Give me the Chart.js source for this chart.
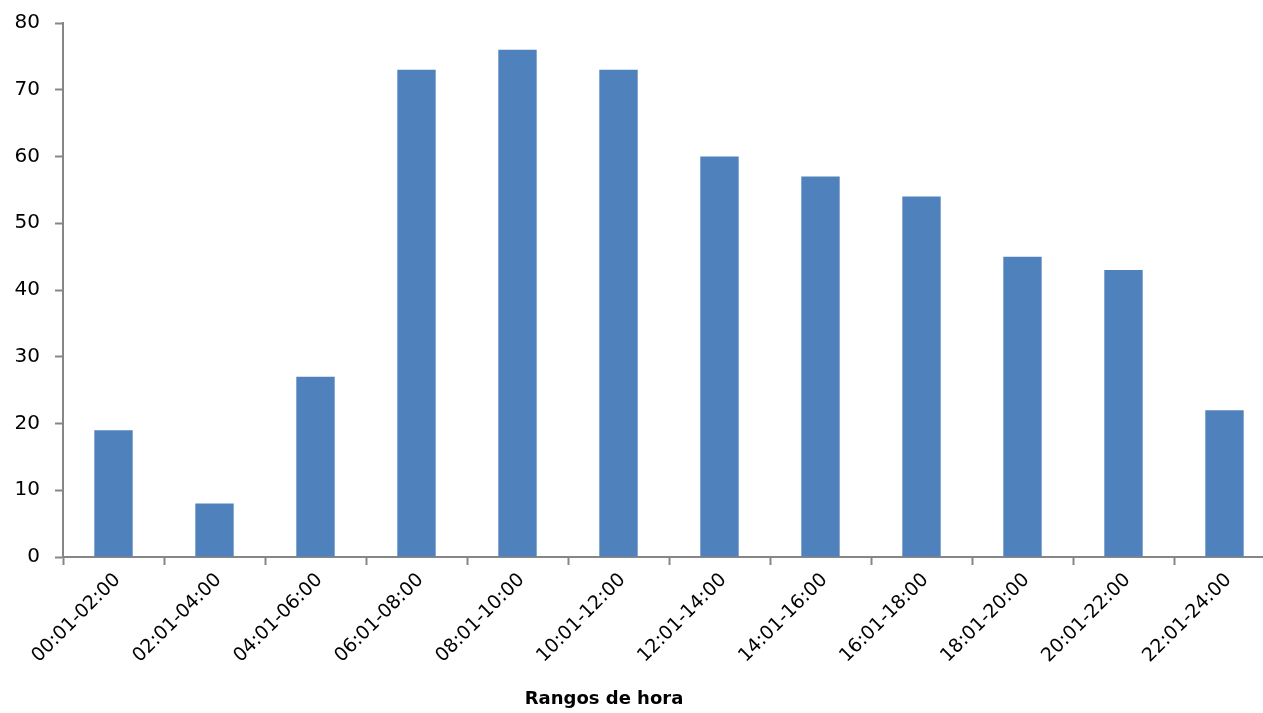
<!DOCTYPE html>
<html>
<head>
<meta charset="utf-8">
<script src="https://cdn.jsdelivr.net/npm/chart.js@4"></script>
<style>
    html, body { margin: 0; padding: 0; background: #fff; overflow: hidden; }
    #wrap { position: relative; width: 1275px; height: 713px; }
    #xTitle {
        position: absolute; left: 604px; top: 687px; transform: translateX(-50%);
        font: bold 18px "DejaVu Sans", sans-serif; color: #000; white-space: nowrap;
    }
</style>
</head>
<body>
<div id="wrap">
    <canvas id="hoursChart"></canvas>
    <div id="xTitle">Rangos de hora</div>
</div>
<script>
const categories = ["00:01-02:00", "02:01-04:00", "04:01-06:00", "06:01-08:00", "08:01-10:00", "10:01-12:00",
    "12:01-14:00", "14:01-16:00", "16:01-18:00", "18:01-20:00", "20:01-22:00", "22:01-24:00"];
const counts = [19, 8, 27, 73, 76, 73, 60, 57, 54, 45, 43, 22];
const yTicks = [0, 10, 20, 30, 40, 50, 60, 70, 80];

const axisGray = "#868686";

new Chart(document.getElementById("hoursChart"), {
    type: "bar",
    data: {
        labels: categories,
        datasets: [
            {
                data: counts,
                backgroundColor: "#4f81bd",
                borderWidth: 0,
                barPercentage: 0.38,
                categoryPercentage: 1.0,
            },
        ],
    },
    options: {
        responsive: true,
        maintainAspectRatio: false,
        animation: false,
        layout: { padding: { top: 23, right: 0, bottom: 0, left: 0 } },
        scales: {
            x: {
                afterFit: (scale) => { scale.height = 156; },
                grid: {
                    offset: true,
                    drawOnChartArea: false,
                    tickLength: 8,
                    tickWidth: 2,
                    tickColor: axisGray,
                },
                border: { color: axisGray, width: 2 },
                ticks: {
                    autoSkip: false,
                    minRotation: 45,
                    maxRotation: 45,
                    padding: 4,
                    labelOffset: 4,
                    color: "#000",
                    font: { family: "DejaVu Sans", size: 19 },
                },
            },
            y: {
                min: 0,
                max: 80,
                afterFit: (scale) => {
                    scale.width = 63;
                    // tick padding would otherwise push the plot top down
                    scale.paddingTop = 0;
                    scale.paddingBottom = 0;
                },
                afterBuildTicks: (scale) => { scale.ticks = yTicks.map((v) => ({ value: v })); },
                grid: {
                    drawOnChartArea: false,
                    tickLength: 8,
                    tickWidth: 2,
                    tickColor: axisGray,
                },
                border: { color: axisGray, width: 2 },
                ticks: {
                    padding: 15,
                    color: "#000",
                    font: { family: "DejaVu Sans", size: 20 },
                },
            },
        },
        plugins: {
            legend: { display: false },
            tooltip: { enabled: false },
        },
    },
});
</script>
</body>
</html>
